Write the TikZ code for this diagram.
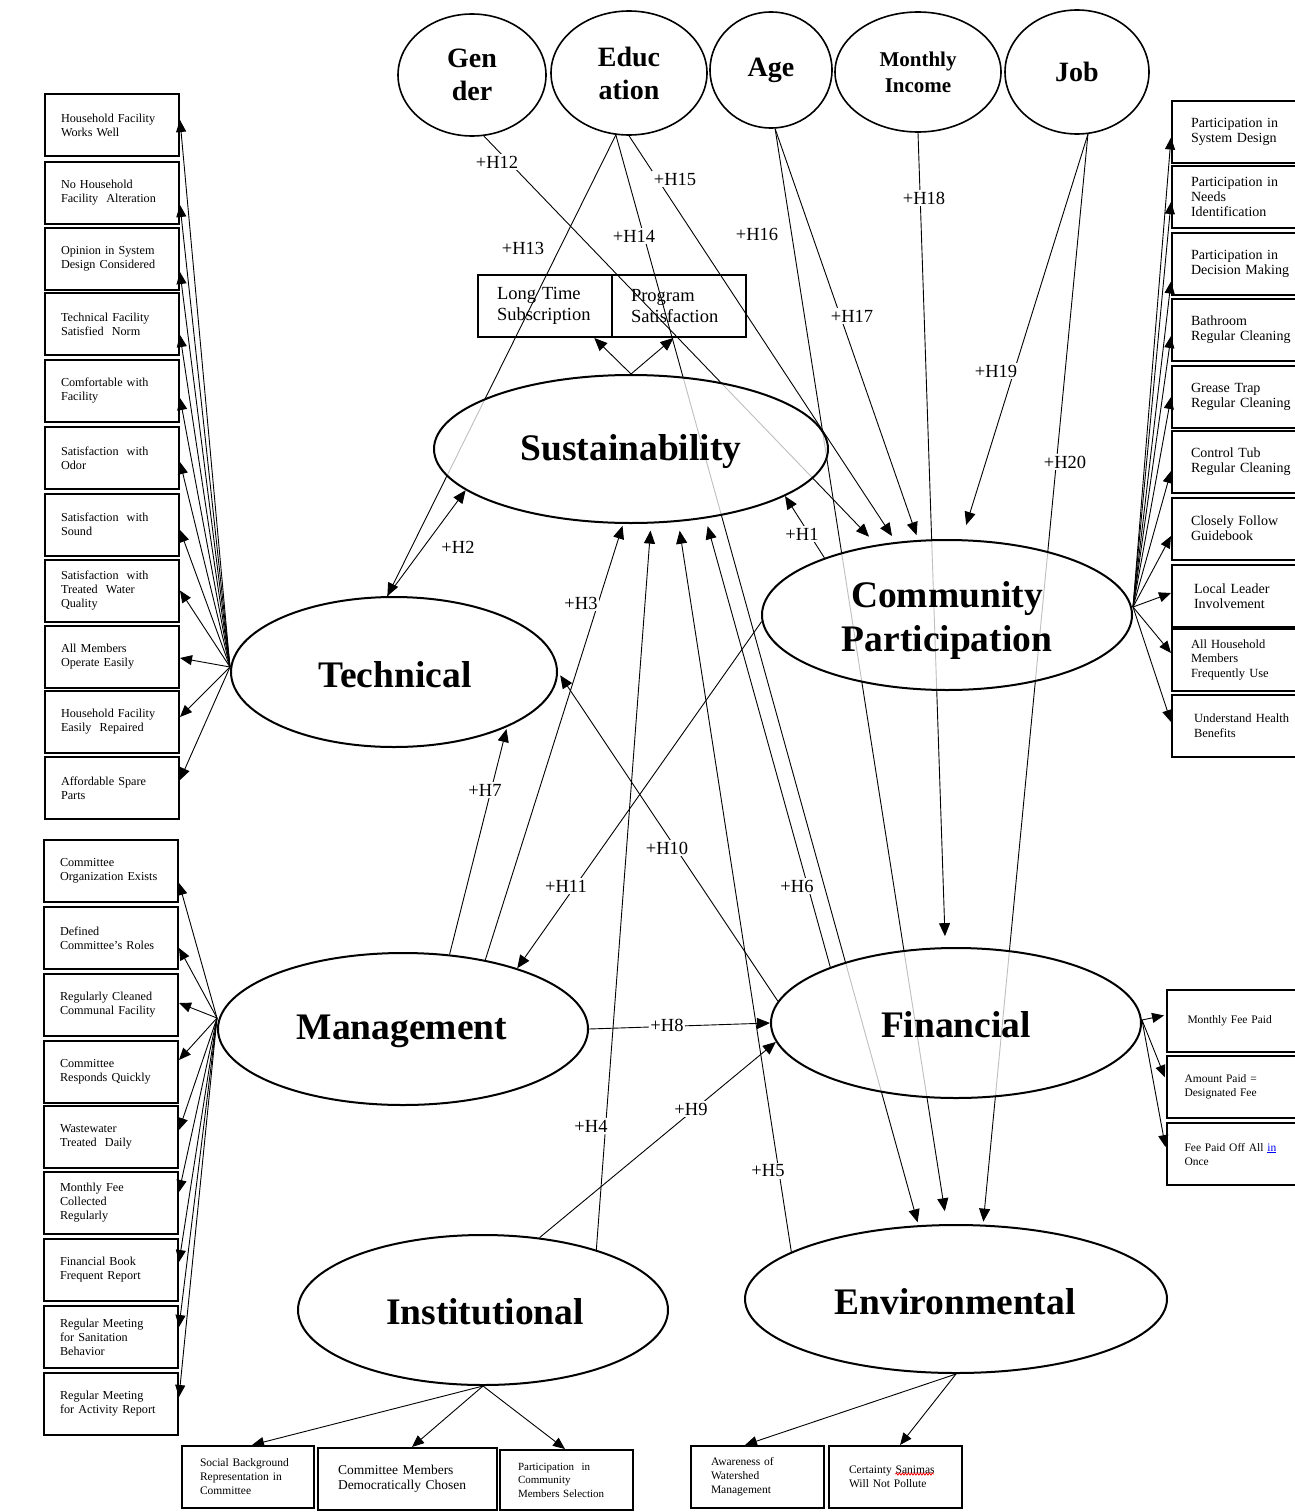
\documentclass[tikz,border=0pt]{standalone}
\usepackage{fontspec}
\setmainfont{Liberation Serif}
\usetikzlibrary{shapes.geometric,arrows.meta,decorations.pathmorphing}
\pgfdeclarelayer{bg}
\pgfsetlayers{bg,main}

\begin{document}
\begin{tikzpicture}[x=1pt,y=-1pt,
  demo/.style={ellipse, draw, line width=1.6pt, inner sep=0pt, align=center,
               font=\bfseries\fontsize{28}{33}\selectfont},
  latent/.style={ellipse, draw, line width=2pt, inner sep=0pt,
                 fill=white, fill opacity=0.75, draw opacity=1},
  bigtxt/.style={inner sep=1pt, align=center,
                 font=\bfseries\fontsize{37.5}{44}\selectfont},
  ind/.style={draw, line width=2pt, inner sep=0pt, align=left, minimum height=62pt},
  lbox/.style={ind, minimum width=134pt, text width=102pt, font=\fontsize{12.2}{14}\selectfont},
  rbox/.style={ind, minimum width=158pt, text width=120pt, font=\fontsize{14}{15}\selectfont},
  fbox/.style={ind, minimum width=153pt, text width=118pt, font=\fontsize{11.5}{14}\selectfont},
  hyp/.style={line width=0.9pt, -{Triangle[length=13pt,width=11pt]}},
  load/.style={line width=0.9pt, -{Triangle[length=12pt,width=10pt]}},
  hlab/.style={fill=white, inner sep=1.5pt, font=\fontsize{18.5}{20}\selectfont}
]
\useasboundingbox (0,0) rectangle (1294,1512);

% ---------- demographic variables ----------
\node[demo, minimum width=148pt, minimum height=122pt] (gen) at (472,75) {Gen\\der};
\node[demo, minimum width=156pt, minimum height=124pt] (edu) at (629,73) {Educ\\ation};
\node[demo, minimum width=122pt, minimum height=116pt] (age) at (771,70) {Age};
\node[demo, minimum width=166pt, minimum height=120pt,
      font=\bfseries\fontsize{21}{26}\selectfont] (mi) at (918,72) {Monthly\\Income};
\node[demo, minimum width=144pt, minimum height=124pt] (job) at (1077,72) {Job};

% ---------- sustainability outcomes ----------
\node[ind, minimum width=134pt, text width=96pt, font=\fontsize{18.5}{21}\selectfont]
  (lts) at (545,306) {Long Time\\Subscription};
\node[ind, minimum width=134pt, text width=96pt, font=\fontsize{18.5}{21}\selectfont]
  (ps) at (679,306) {Program\\Satisfaction};

% ---------- latent constructs ----------
\node[latent, minimum width=394pt, minimum height=148pt] (sust) at (631,449) {};
\node[latent, minimum width=326pt, minimum height=150pt] (tech) at (394,672) {};
\node[latent, minimum width=370pt, minimum height=150pt] (cp)   at (947,615) {};
\node[latent, minimum width=370pt, minimum height=152pt] (mgmt) at (403,1029) {};
\node[latent, minimum width=370pt, minimum height=150pt] (fin)  at (956,1023) {};
\node[latent, minimum width=370pt, minimum height=150pt] (inst) at (483,1310) {};
\node[latent, minimum width=422pt, minimum height=148pt] (env)  at (956,1299) {};

\node[bigtxt] (sustT) at (631,452) {Sustainability};
\node[bigtxt] (techT) at (395,675) {Technical};
\node[bigtxt] (cpT)   at (947,620) {Community\\Participation};
\node[bigtxt] (mgmtT) at (402,1031) {Management};
\node[bigtxt] (finT)  at (956,1025) {Financial};
\node[bigtxt] (instT) at (485,1312) {Institutional};
\node[bigtxt] (envT)  at (955,1302) {Environmental};

% ---------- technical indicators ----------
\node[lbox] (t1)  at (112,125)   {Household Facility\\Works Well};
\node[lbox] (t2)  at (112,192.5) {No Household\\Facility\ \ Alteration};
\node[lbox] (t3)  at (112,259)   {Opinion in System\\Design Considered};
\node[lbox] (t4)  at (112,324)   {Technical Facility\\Satisfied\ \ Norm};
\node[lbox] (t5)  at (112,391)   {Comfortable with\\Facility};
\node[lbox] (t6)  at (112,458)   {Satisfaction\ \ with\\Odor};
\node[lbox] (t7)  at (112,524.5) {Satisfaction\ \ with\\Sound};
\node[lbox] (t8)  at (112,590.5) {Satisfaction\ \ with\\Treated\ \ Water\\Quality};
\node[lbox] (t9)  at (112,656.5) {All Members\\Operate Easily};
\node[lbox] (t10) at (112,722)   {Household Facility\\Easily\ \ Repaired};
\node[lbox] (t11) at (112,788)   {Affordable Spare\\Parts};

% ---------- management indicators ----------
\node[lbox] (m1) at (111,871)    {Committee\\Organization Exists};
\node[lbox] (m2) at (111,938)    {Defined\\Committee’s Roles};
\node[lbox] (m3) at (111,1005)   {Regularly Cleaned\\Communal Facility};
\node[lbox] (m4) at (111,1071.5) {Committee\\Responds Quickly};
\node[lbox] (m5) at (111,1137)   {Wastewater\\Treated\ \ Daily};
\node[lbox] (m6) at (111,1203)   {Monthly Fee\\Collected\\Regularly};
\node[lbox] (m7) at (111,1270)   {Financial Book\\Frequent Report};
\node[lbox] (m8) at (111,1337)   {Regular Meeting\\for Sanitation\\Behavior};
\node[lbox] (m9) at (111,1404)   {Regular Meeting\\for Activity Report};

% ---------- community participation indicators ----------
\node[rbox] (c1)  at (1251,131.5) {Participation in\\System Design};
\node[rbox] (c2)  at (1251,197)   {Participation in\\Needs\\Identification};
\node[rbox] (c3)  at (1251,263.5) {Participation in\\Decision Making};
\node[rbox] (c4)  at (1251,330)   {Bathroom\\Regular Cleaning};
\node[rbox] (c5)  at (1251,397)   {Grease Trap\\Regular Cleaning};
\node[rbox] (c6)  at (1251,462)   {Control Tub\\Regular Cleaning};
\node[rbox] (c7)  at (1251,528.5) {Closely Follow\\Guidebook};
\node[rbox] (c8)  at (1251,596)   {\hspace*{3pt}Local Leader\\\hspace*{3pt}Involvement};
\node[rbox, font=\fontsize{12.5}{14.5}\selectfont] (c9)  at (1251,660) {All Household\\Members\\Frequently Use};
\node[rbox, font=\fontsize{12.5}{14.5}\selectfont] (c10) at (1251,725.5) {\hspace*{3pt}Understand Health\\\hspace*{3pt}Benefits};

% ---------- financial indicators ----------
\node[fbox] (f1) at (1243.5,1021) {\hspace*{3pt}Monthly Fee Paid};
\node[fbox] (f2) at (1243.5,1087) {Amount Paid =\\Designated Fee};
\node[fbox] (f3) at (1243.5,1154) {Fee Paid Off All \textcolor{blue}{\underline{in}}\\Once};

% ---------- institutional indicators ----------
\node[ind, minimum width=132pt, text width=96pt, font=\fontsize{11.5}{14}\selectfont]
  (ib1) at (248,1477) {Social Background\\Representation in\\Committee};
\node[ind, minimum width=179pt, text width=139pt, font=\fontsize{13.5}{15}\selectfont]
  (ib2) at (407.5,1479) {Committee Members\\Democratically Chosen};
\node[ind, minimum width=133pt, minimum height=60pt, text width=97pt, font=\fontsize{11}{13.5}\selectfont]
  (ib3) at (566.5,1480) {Participation\ \ in\\Community\\Members Selection};

% ---------- environmental indicators ----------
\node[ind, minimum width=133pt, text width=93pt, font=\fontsize{11.5}{14}\selectfont]
  (eb1) at (757.5,1477) {Awareness of\\Watershed\\Management};
\node[ind, minimum width=133pt, text width=93pt, font=\fontsize{11.5}{14}\selectfont]
  (eb2) at (895.5,1477) {Certainty Sanimas\\Will Not Pollute};
% spell-check squiggle under the second word
\draw[red, line width=0.8pt, decorate, decoration={snake, amplitude=1pt, segment length=3pt}]
  ([xshift=0pt,yshift=3pt]eb2.center) -- ([xshift=38pt,yshift=3pt]eb2.center);

% ---------- connectors ----------
\begin{pgfonlayer}{bg}
% hypothesised paths
\draw[hyp] (cp.155.8) -- (sust.-17);                         % H1
\draw[hyp] (tech.95) -- (sust.194.8);                        % H2
\draw[hyp, shorten >=2pt] (mgmt.40.8) -- (sust.-96.5);       % H3
\draw[hyp, shorten >=7pt] (inst.28) -- (sust.-75.2);         % H4
\draw[hyp, shorten >=9pt] (env.164.2) -- (sust.-57.7);       % H5
\draw[hyp, shorten >=8pt] (fin.156) -- (sust.-43);           % H6
\draw[hyp, shorten >=2pt] (mgmt.58.3) -- (tech.-26);         % H7
\draw[hyp] (mgmt.east) -- (fin.west);                        % H8
\draw[hyp] (inst.52.6) -- (fin.186.2);                       % H9
\draw[hyp, shorten >=4pt] (fin.173.5) -- (tech.east);        % H10
\draw[hyp] (cp.182) -- (mgmt.28.5);                          % H11
\draw[hyp, shorten >=11pt] (gen.-79) -- (cp.135.4);          % H12
\draw[hyp] (edu.-102.7) -- (tech.95);                        % H13
\draw[hyp, shorten >=3pt] (edu.-102.7) -- (env.117.5);       % H14
\draw[hyp, shorten >=7pt] (edu.south) -- (cp.125);           % H15
\draw[hyp, shorten >=13pt] (age.-86) -- (env.97.7);          % H16
\draw[hyp, shorten >=5pt] (age.-86) -- (cp.111.8);           % H17
\draw[hyp, shorten >=11pt] (mi.south) -- (fin.98);           % H18
\draw[hyp, shorten >=15pt] (job.-80) -- (cp.79.3);           % H19
\draw[hyp, shorten >=3pt] (job.-80) -- (env.70.4);           % H20
\draw[hyp] (sust.north) -- (lts.-33.7);
\draw[hyp] (sust.north) -- (ps.-100.6);

% technical loadings
\draw[load] ([yshift=5pt]tech.west) -- ([yshift=5pt]t1.east);
\draw[load] ([yshift=5pt]tech.west) -- ([yshift=-12.5pt]t2.east);
\draw[load] ([yshift=5pt]tech.west) -- ([yshift=-13pt]t3.east);
\draw[load] ([yshift=5pt]tech.west) -- ([yshift=-11pt]t4.east);
\draw[load] ([yshift=5pt]tech.west) -- ([yshift=-7pt]t5.east);
\draw[load] ([yshift=5pt]tech.west) -- ([yshift=-4pt]t6.east);
\draw[load] ([yshift=5pt]tech.west) -- ([yshift=-5.5pt]t7.east);
\draw[load] ([yshift=5pt]tech.west) -- (t8.east);
\draw[load] ([yshift=5pt]tech.west) -- ([yshift=-1.5pt]t9.east);
\draw[load] ([yshift=5pt]tech.west) -- ([yshift=5pt]t10.east);
\draw[load] ([yshift=5pt]tech.west) -- ([yshift=8pt]t11.east);

% management loadings
\draw[load] ([yshift=11pt]mgmt.west) -- ([yshift=-12pt]m1.east);
\draw[load] ([yshift=11pt]mgmt.west) -- ([yshift=-10pt]m2.east);
\draw[load] ([yshift=11pt]mgmt.west) -- ([yshift=2pt]m3.east);
\draw[load] ([yshift=11pt]mgmt.west) -- ([yshift=11.5pt]m4.east);
\draw[load] ([yshift=11pt]mgmt.west) -- ([yshift=7pt]m5.east);
\draw[load] ([yshift=11pt]mgmt.west) -- ([yshift=11pt]m6.east);
\draw[load] ([yshift=11pt]mgmt.west) -- ([yshift=8pt]m7.east);
\draw[load] ([yshift=11pt]mgmt.west) -- ([yshift=10pt]m8.east);
\draw[load] ([yshift=11pt]mgmt.west) -- ([yshift=7pt]m9.east);

% community participation loadings
\draw[load] ([yshift=8pt]cp.east) -- ([yshift=-6pt]c1.west);
\draw[load] ([yshift=8pt]cp.east) -- ([yshift=-5pt]c2.west);
\draw[load] ([yshift=8pt]cp.east) -- ([yshift=-18pt]c3.west);
\draw[load] ([yshift=8pt]cp.east) -- ([yshift=-6pt]c4.west);
\draw[load] ([yshift=8pt]cp.east) -- (c5.west);
\draw[load] ([yshift=8pt]cp.east) -- ([yshift=-9pt]c6.west);
\draw[load] ([yshift=8pt]cp.east) -- ([yshift=-7.5pt]c7.west);
\draw[load] ([yshift=8pt]cp.east) -- ([yshift=3pt]c8.west);
\draw[load] ([yshift=8pt]cp.east) -- ([yshift=7pt]c9.west);
\draw[load] ([yshift=8pt]cp.east) -- ([yshift=3.5pt]c10.west);

% financial loadings
\draw[load, shorten >=2pt] ([yshift=3pt]fin.east) -- ([yshift=6pt]f1.west);
\draw[load, shorten >=3pt] ([yshift=3pt]fin.east) -- ([yshift=7pt]f2.west);
\draw[load, shorten >=3pt] ([yshift=3pt]fin.east) -- ([yshift=4pt]f3.west);

% institutional loadings
\draw[load] (inst.south) -- ([xshift=4pt]ib1.north);
\draw[load] (inst.south) -- ([xshift=4.5pt]ib2.north);
\draw[load] (inst.south) -- ([xshift=-1.5pt]ib3.north);

% environmental loadings
\draw[load] (env.south) -- ([xshift=-12.5pt]eb1.north);
\draw[load] (env.south) -- ([xshift=4.5pt]eb2.north);
\end{pgfonlayer}

% ---------- hypothesis labels ----------
\node[hlab] (h1)  at (802,534)  {+H1};
\node[hlab] (h2)  at (458,547)  {+H2};
\node[hlab] (h3)  at (581,603)  {+H3};
\node[hlab] (h4)  at (591,1126) {+H4};
\node[hlab] (h5)  at (768,1171) {+H5};
\node[hlab] (h6)  at (797,886)  {+H6};
\node[hlab] (h7)  at (485,790)  {+H7};
\node[hlab] (h8)  at (667,1025) {+H8};
\node[hlab] (h9)  at (691,1109) {+H9};
\node[hlab] (h10) at (667,848)  {+H10};
\node[hlab] (h11) at (566,886)  {+H11};
\node[hlab] (h12) at (497,162)  {+H12};
\node[hlab] (h13) at (523,248)  {+H13};
\node[hlab] (h14) at (634,236)  {+H14};
\node[hlab] (h15) at (675,179)  {+H15};
\node[hlab] (h16) at (757,234)  {+H16};
\node[hlab] (h17) at (852,316)  {+H17};
\node[hlab] (h18) at (924,198)  {+H18};
\node[hlab] (h19) at (996,371)  {+H19};
\node[hlab] (h20) at (1065,462) {+H20};
\end{tikzpicture}
\end{document}
